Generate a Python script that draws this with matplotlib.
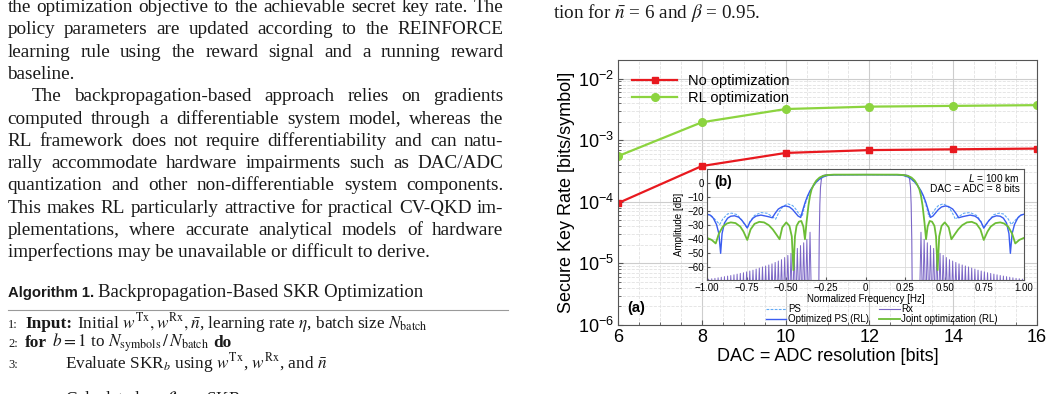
import numpy as np
import matplotlib
matplotlib.use("Agg")
import matplotlib.pyplot as plt
import matplotlib.ticker as mticker
from matplotlib.lines import Line2D

plt.rcParams['font.family'] = ['Liberation Sans', 'DejaVu Sans']
plt.rcParams['mathtext.fontset'] = 'custom'
plt.rcParams['mathtext.rm'] = 'Liberation Sans'
plt.rcParams['mathtext.it'] = 'Liberation Sans:italic'
plt.rcParams['mathtext.bf'] = 'Liberation Sans:bold'

# ---- panel (a): secure key rate vs DAC/ADC resolution ----
bits = [6, 8, 10, 12, 14, 16]
skr_no_opt = [0.95e-4, 3.8e-4, 6.2e-4, 6.9e-4, 7.1e-4, 7.3e-4]
skr_rl = [5.5e-4, 1.95e-3, 3.2e-3, 3.5e-3, 3.6e-3, 3.7e-3]

# ---- panel (b): spectra, negative half (picture is symmetric) ----
opt_ps_f = [-1.00, -0.98, -0.96, -0.94, -0.925, -0.914, -0.905, -0.89, -0.87, -0.85,
            -0.826, -0.80, -0.78, -0.76, -0.746, -0.73, -0.71, -0.69, -0.66, -0.63,
            -0.61, -0.588, -0.57, -0.55, -0.525, -0.504, -0.48, -0.46, -0.44, -0.425,
            -0.409, -0.395, -0.38, -0.365, -0.35, -0.33, -0.31, -0.29, -0.27, -0.24,
            -0.20, 0.0]
opt_ps_db = [-22.2, -22.8, -25.0, -29.5, -36.0, -50.0, -36.0, -28.5, -25.0, -23.6,
             -23.3, -24.3, -26.5, -29.5, -32.0, -28.0, -25.0, -23.5, -22.8, -23.5,
             -24.0, -24.7, -21.5, -18.5, -16.8, -16.3, -17.0, -18.8, -21.5, -23.5,
             -24.5, -19.0, -13.5, -9.0, -5.5, -2.0, 0.8, 2.8, 4.3, 5.4,
             5.9, 6.0]

ps_f = [-1.00, -0.97, -0.94, -0.92, -0.90, -0.87, -0.844, -0.81, -0.78, -0.76,
        -0.746, -0.73, -0.70, -0.66, -0.62, -0.59, -0.567, -0.545, -0.52, -0.49,
        -0.46, -0.44, -0.42, -0.40, -0.385, -0.37, -0.35, -0.33, -0.31, -0.29,
        -0.27, -0.24, -0.20, 0.0]
ps_db = [-22.0, -23.5, -27.0, -29.5, -25.5, -22.0, -21.4, -22.5, -26.5, -30.0,
         -32.0, -27.5, -23.0, -21.0, -21.5, -23.8, -25.7, -20.5, -16.5, -14.8,
         -16.0, -18.5, -22.0, -23.8, -17.0, -11.5, -6.0, -2.3, 0.6, 2.6,
         4.2, 5.4, 5.9, 6.0]

joint_f = [-1.00, -0.97, -0.945, -0.925, -0.90, -0.875, -0.85, -0.82, -0.79, -0.77,
           -0.746, -0.725, -0.70, -0.67, -0.64, -0.61, -0.585, -0.56, -0.542, -0.525,
           -0.50, -0.48, -0.465, -0.455, -0.445, -0.435, -0.42, -0.405, -0.392, -0.382,
           -0.372, -0.36, -0.35, -0.34, -0.325, -0.31, -0.29, -0.27, -0.24, -0.20,
           0.0]
joint_db = [-39.0, -40.5, -43.0, -36.0, -31.0, -28.8, -28.0, -28.5, -31.0, -34.5,
            -40.5, -33.0, -29.0, -27.6, -28.0, -30.0, -33.0, -37.0, -40.0, -31.5,
            -28.0, -30.5, -38.0, -62.0, -38.0, -30.5, -27.5, -27.0, -31.0, -40.0,
            -28.0, -16.0, -9.0, -4.5, -0.8, 1.8, 3.9, 5.0, 5.7, 6.0,
            6.0]

rx_main_f = [-0.295, -0.292, -0.288, -0.284, -0.278, -0.27, -0.25, 0.0]
rx_main_db = [-80.0, -40.0, -15.0, -3.0, 3.0, 5.3, 5.9, 6.0]
# Rx side-lobe peaks, from |f| = 0.35 Hz outward, one every 0.02 Hz
rx_lobe_start, rx_lobe_step = 0.35, 0.02
rx_lobe_db = [-35.0, -40.0, -42.5, -44.5, -46.5, -48.5, -50.0, -51.5, -53.0, -54.5,
              -55.5, -56.5, -57.5, -58.3, -59.0, -59.7, -60.5, -61.2, -62.0, -62.6,
              -63.2, -63.8, -64.3, -64.8, -65.3, -65.8, -66.2, -66.6, -67.0, -67.4,
              -67.8, -68.1, -68.4]

freq_ticks = [-1.0, -0.75, -0.5, -0.25, 0.0, 0.25, 0.5, 0.75, 1.0]
freq_labels = ['\u22121.00', '\u22120.75', '\u22120.50', '\u22120.25', '0',
               '0.25', '0.50', '0.75', '1.00']
amp_ticks = [0, -10, -20, -30, -40, -50, -60]

# ---- surrounding page text ----
body_lines = [
    ("the optimization objective to the achievable secret key rate. The", True, False),
    ("policy parameters are updated according to the REINFORCE", True, False),
    ("learning rule using the reward signal and a running reward", True, False),
    ("baseline.", False, False),
    ("The backpropagation-based approach relies on gradients", True, True),
    ("computed through a differentiable system model, whereas the", True, False),
    ("RL framework does not require differentiability and can natu-", True, False),
    ("rally accommodate hardware impairments such as DAC/ADC", True, False),
    ("quantization and other non-differentiable system components.", True, False),
    ("This makes RL particularly attractive for practical CV-QKD im-", True, False),
    ("plementations, where accurate analytical models of hardware", True, False),
    ("imperfections may be unavailable or difficult to derive.", False, False),
]
right_col_line = r"tion for $\bar{n}$ = 6 and $\beta$ = 0.95."
alg_title_bold = "Algorithm 1."
alg_title_rest = "Backpropagation-Based SKR Optimization"
alg_lines = [
    ("1:", False, [("Input:", 'bold'),
                   (r"Initial $w^{\rm Tx}, w^{\rm Rx}, \bar{n}$, learning rate $\eta$, batch size $N_{\rm batch}$", 'normal')]),
    ("2:", False, [("for", 'bold'),
                   (r"$b = 1$ to $N_{\rm symbols}\,/\,N_{\rm batch}$", 'normal'),
                   ("do", 'bold')]),
    ("3:", True, [(r"Evaluate SKR$_b$ using $w^{\rm Tx}$, $w^{\rm Rx}$, and $\bar{n}$", 'normal')]),
    ("4:", True, [(r"Calculate loss $\mathcal{L} = -$SKR$_b$", 'normal')]),
]

W, H = 1051, 394
fig = plt.figure(figsize=(W / 100, H / 100), dpi=100)


def fx(x):
    return x / W


def fy(y):
    return 1 - y / H


# ── Panel (a) ────────────────────────────────────────────────────────────────
ax = fig.add_axes([fx(618), fy(325), (1037 - 618) / W, (325 - 60) / H])
ax.set_yscale('log')
ax.plot(bits, skr_no_opt, '-s', color='#e8191f', lw=1.6, ms=5, label='No optimization')
ax.plot(bits, skr_rl, '-o', color='#8cd43f', lw=1.6, ms=5.5, label='RL optimization')
ax.set_xlim(6, 16)
ax.set_ylim(1e-6, 2e-2)
ax.xaxis.set_major_locator(mticker.MultipleLocator(2))
ax.xaxis.set_minor_locator(mticker.MultipleLocator(0.5))
ax.yaxis.set_minor_locator(mticker.LogLocator(subs=np.arange(2, 10)))
ax.yaxis.set_minor_formatter(mticker.NullFormatter())
ax.set_axisbelow(True)
ax.grid(which='major', color='#cdcdcd', lw=0.8)
ax.grid(which='minor', color='#e2e2e2', lw=0.6, ls='--')
ax.tick_params(which='both', direction='in', labelsize=13, color='#555555', pad=3)
ax.tick_params(which='minor', length=2)
for sp in ax.spines.values():
    sp.set_color('#555555')
ax.set_xlabel('DAC = ADC resolution [bits]', fontsize=13)
ax.set_ylabel('Secure Key Rate [bits/symbol]', fontsize=13)
ax.xaxis.set_label_coords(0.5, -0.088)
ax.yaxis.set_label_coords(-0.103, 0.5)
ax.legend(loc='upper left', bbox_to_anchor=(fx(632), fy(74)), bbox_transform=fig.transFigure,
          frameon=False, fontsize=10.5, handlelength=3.1, handletextpad=0.75,
          labelspacing=0.2, borderpad=0, borderaxespad=0)
fig.text(fx(636), fy(308), '(a)', fontsize=10.5, fontweight='bold', ha='center', va='center')

# ── Panel (b) inset ──────────────────────────────────────────────────────────
def mirror(f, db):
    f = np.asarray(f)
    db = np.asarray(db)
    return np.concatenate([f, -f[::-1][1:]]), np.concatenate([db, db[::-1][1:]])


axin = fig.add_axes([fx(707), fy(280), (1024 - 707) / W, (280 - 169) / H])
rx_color = '#7b66c6'
fm, dm = mirror(rx_main_f, rx_main_db)
axin.plot(fm, dm, color=rx_color, lw=0.8)
lobe_f, lobe_db = [], []
for k, pk in enumerate(rx_lobe_db):
    c = rx_lobe_start + k * rx_lobe_step
    lobe_f += [c - rx_lobe_step / 2, c]
    lobe_db += [-90.0, pk]
lobe_f.append(lobe_f[-1] + rx_lobe_step / 2)
lobe_db.append(-90.0)
lobe_f = np.array(lobe_f)
axin.plot(lobe_f, lobe_db, color=rx_color, lw=0.7)
axin.plot(-lobe_f, lobe_db, color=rx_color, lw=0.7)

f, d = mirror(ps_f, ps_db)
axin.plot(f, d, color='#62aaf5', lw=0.8, ls=(0, (2.5, 1.2)))
f, d = mirror(opt_ps_f, opt_ps_db)
axin.plot(f, d, color='#3a5cf0', lw=1.0)
f, d = mirror(joint_f, joint_db)
axin.plot(f, d, color='#6cbd36', lw=1.3)

axin.set_xlim(-1, 1)
axin.set_ylim(-69, 10)
axin.set_xticks(freq_ticks)
axin.set_xticklabels(freq_labels)
axin.set_yticks(amp_ticks)
axin.set_yticklabels([str(v).replace('-', '\u2212') for v in amp_ticks])
axin.grid(color='#dadada', lw=0.6)
axin.set_axisbelow(True)
axin.tick_params(direction='in', length=2, labelsize=7, pad=2, color='#555555')
for sp in axin.spines.values():
    sp.set_color('#555555')
axin.set_xlabel('Normalized Frequency [Hz]', fontsize=7)
axin.set_ylabel('Amplitude [dB]', fontsize=7)
axin.xaxis.set_label_coords(0.5, -0.125)
axin.yaxis.set_label_coords(-0.072, 0.5)

handles = [Line2D([], [], color='#62aaf5', lw=0.8, ls=(0, (2.5, 1.2))),
           Line2D([], [], color='#3a5cf0', lw=1.0),
           Line2D([], [], color=rx_color, lw=0.8),
           Line2D([], [], color='#6cbd36', lw=1.3)]
labels = ['PS', 'Optimized PS (RL)', 'Rx', 'Joint optimization (RL)']
axin.legend(handles, labels, loc='upper left', bbox_to_anchor=(fx(766), fy(304)),
            bbox_transform=fig.transFigure, ncol=2, frameon=False, fontsize=7,
            handlelength=2.1, handletextpad=0.2, labelspacing=0.05, columnspacing=1.0,
            borderpad=0, borderaxespad=0)
fig.text(fx(723), fy(182), '(b)', fontsize=10, fontweight='bold', ha='center', va='center')
fig.text(fx(1020), fy(178), r'$L$ = 100 km', fontsize=7.3, ha='right', va='center')
fig.text(fx(1020), fy(188.5), 'DAC = ADC = 8 bits', fontsize=7.3, ha='right', va='center')

# ── Page text around the figure ──────────────────────────────────────────────
renderer = fig.canvas.get_renderer()
ink = '#1a1a1a'
serif = dict(family='Liberation Serif', color=ink, math_fontfamily='stix')


def text_width(s, **kw):
    t = fig.text(0, 0, s, **kw)
    w = t.get_window_extent(renderer).width
    t.remove()
    return w


left_x, right_x, indent = 7.5, 503.5, 24.5
base = 12.0
ratios = []
for s, just, ind in body_lines:
    if just:
        words = s.split()
        nat = sum(text_width(w, fontsize=base, **serif) for w in words) \
            + (len(words) - 1) * 0.25 * base * 100 / 72
        ratios.append(nat / (right_x - left_x - (indent if ind else 0)))
body_size = base / max(ratios) * 0.99

y = 12.0
for s, just, ind in body_lines:
    x0 = left_x + (indent if ind else 0)
    if just:
        words = s.split()
        widths = [text_width(w, fontsize=body_size, **serif) for w in words]
        gap = (right_x - x0 - sum(widths)) / (len(words) - 1)
        x = x0
        for w, wd in zip(words, widths):
            fig.text(fx(x), fy(y), w, fontsize=body_size, va='baseline', **serif)
            x += wd + gap
    else:
        fig.text(fx(x0), fy(y), s, fontsize=body_size, va='baseline', **serif)
    y += 22.3

fig.text(fx(553), fy(17.5), right_col_line, fontsize=body_size, va='baseline', **serif)

# algorithm box
fig.text(fx(8), fy(297), alg_title_bold, fontsize=10.7, fontweight='bold',
         family='Liberation Sans', color=ink, va='baseline')
fig.text(fx(98), fy(297), alg_title_rest, fontsize=13.5, va='baseline', **serif)
fig.add_artist(Line2D([fx(8), fx(508)], [fy(309.5), fy(309.5)], color='#9a9a9a', lw=0.8,
                      transform=fig.transFigure))

asize = 12.4
space = 0.27 * asize * 100 / 72
for (num, inner, segs), yb in zip(alg_lines, [328, 347, 368, 404]):
    fig.text(fx(8), fy(yb), num, fontsize=9, va='baseline', **serif)
    x = 65 if inner else 25
    for s, weight in segs:
        t = fig.text(fx(x), fy(yb), s, fontsize=asize, fontweight=weight,
                     va='baseline', **serif)
        x += t.get_window_extent(renderer).width + space

fig.savefig('out.png', dpi=100)
